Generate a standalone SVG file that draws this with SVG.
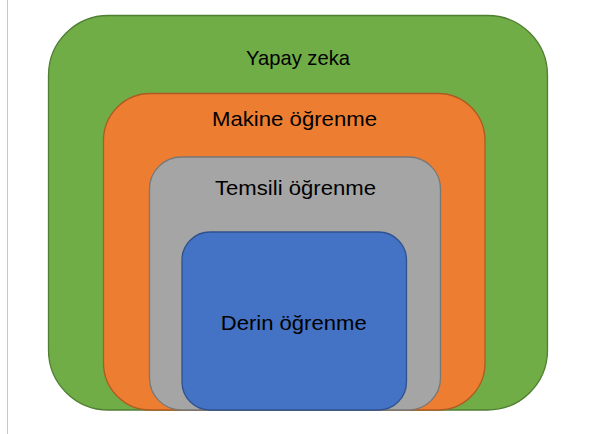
<svg xmlns="http://www.w3.org/2000/svg" width="595" height="434" viewBox="0 0 595 434">
<style>
.lbl{font-family:"Liberation Sans",Arial,sans-serif;font-size:21px;fill:#000;text-anchor:middle}
.box{stroke-width:1.3}
</style>
<rect x="0" y="0" width="595" height="434" fill="#fff"/>
<line x1="7.5" y1="0" x2="7.5" y2="434" stroke="#c8c8c8" stroke-width="1"/>
<g id="yapay-zeka">
<rect class="box" x="48.5" y="15.5" width="499" height="394.5" rx="60" ry="60" fill="#70AD47" stroke="#507E32"/>
<text class="lbl" x="298" y="65" textLength="104" lengthAdjust="spacingAndGlyphs">Yapay zeka</text>
</g>
<g id="makine-ogrenme">
<rect class="box" x="103.5" y="93.5" width="381.5" height="316.5" rx="47" ry="47" fill="#ED7D31" stroke="#AE5A21"/>
<text class="lbl" x="294.5" y="126" textLength="165" lengthAdjust="spacingAndGlyphs">Makine öğrenme</text>
</g>
<g id="temsili-ogrenme">
<rect class="box" x="149.5" y="157" width="291" height="253" rx="32" ry="32" fill="#A5A5A5" stroke="#787878"/>
<text class="lbl" x="295.5" y="195" textLength="161" lengthAdjust="spacingAndGlyphs">Temsili öğrenme</text>
</g>
<g id="derin-ogrenme">
<rect class="box" x="182" y="232" width="224.5" height="178" rx="28" ry="28" fill="#4472C4" stroke="#2F528F"/>
<text class="lbl" x="293.7" y="329.5" textLength="146" lengthAdjust="spacingAndGlyphs">Derin öğrenme</text>
</g>
<g id="connectors"></g>
</svg>
